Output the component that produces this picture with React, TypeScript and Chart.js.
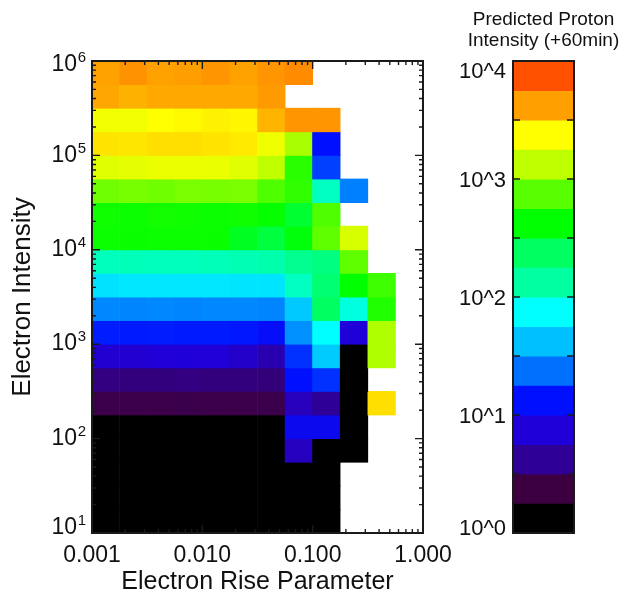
import React, { useEffect, useRef } from 'react';
import { Chart, registerables } from 'chart.js';

Chart.register(...registerables);

const FONT = "'Liberation Sans', Arial, Helvetica, sans-serif";

// Electron Rise Parameter: centres of quarter-decade bins (0.001 .. 1.000)
const riseParameterBins = [0.00133, 0.00237, 0.00422, 0.0075, 0.0133, 0.0237, 0.0422, 0.075, 0.133, 0.237, 0.422, 0.75];
// Electron Intensity bin edges (quarter decades, 10^1 .. 10^6)
const electronIntensityEdges = [10, 17.8, 31.6, 56.2, 100, 178, 316, 562, 1000, 1780, 3160, 5620, 10000, 17800, 31600, 56200, 100000, 178000, 316000, 562000, 1000000];

const _ = null;
// log10 of predicted proton intensity (+60 min); one array per electron-intensity bin, bottom to top
const eBin01 = [0, 0, 0, 0, 0, 0, 0, 0, 0, _, _, _];
const eBin02 = [0, 0, 0, 0, 0, 0, 0, 0, 0, _, _, _];
const eBin03 = [0, 0, 0, 0, 0, 0, 0, 0, 0, _, _, _];
const eBin04 = [0, 0, 0, 0, 0, 0, 0, 0.78, 0, 0, _, _];
const eBin05 = [0, 0, 0, 0, 0, 0, 0, 1.02, 1.02, 0, _, _];
const eBin06 = [0.4, 0.4, 0.4, 0.41, 0.4, 0.4, 0.41, 0.76, 0.63, 0, 3.46, _];
const eBin07 = [0.56, 0.55, 0.55, 0.56, 0.55, 0.55, 0.54, 1.125, 1.21, 0, _, _];
const eBin08 = [0.85, 0.85, 0.87, 0.88, 0.87, 0.82, 0.72, 1.21, 1.67, 0, 3.085, _];
const eBin09 = [1.16, 1.15, 1.16, 1.15, 1.15, 1.14, 1.08, 1.475, 1.875, 0.875, 3.085, _];
const eBin10 = [1.45, 1.44, 1.45, 1.44, 1.45, 1.45, 1.44, 1.66, 2.375, 1.96, 2.715, _];
const eBin11 = [1.76, 1.78, 1.78, 1.78, 1.78, 1.77, 1.77, 2.04, 2.31, 2.625, 2.8, _];
const eBin12 = [2.05, 2.06, 2.05, 2.05, 2.06, 2.07, 2.09, 2.19, 2.25, 2.895, _, _];
const eBin13 = [2.66, 2.65, 2.66, 2.66, 2.65, 2.54, 2.46, 2.6, 2.895, 3.22, _, _];
const eBin14 = [2.67, 2.66, 2.68, 2.67, 2.66, 2.67, 2.64, 2.5, 2.85, _, _, _];
const eBin15 = [2.93, 2.95, 2.93, 2.955, 2.95, 2.955, 2.85, 2.76, 2.04, 1.425, _, _];
const eBin16 = [3.25, 3.27, 3.3, 3.3, 3.29, 3.25, 3.125, 2.745, 1.25, _, _, _];
const eBin17 = [3.445, 3.44, 3.46, 3.46, 3.445, 3.43, 3.315, 3.07, 1.125, _, _, _];
const eBin18 = [3.32, 3.32, 3.375, 3.39, 3.41, 3.4, 3.57, 3.66, 3.66, _, _, _];
const eBin19 = [3.61, 3.58, 3.6, 3.6, 3.6, 3.6, 3.64, _, _, _, _, _];
const eBin20 = [3.62, 3.67, 3.62, 3.63, 3.66, 3.62, 3.66, 3.69, _, _, _, _];
const protonLogRows = [eBin01, eBin02, eBin03, eBin04, eBin05, eBin06, eBin07, eBin08, eBin09, eBin10,
  eBin11, eBin12, eBin13, eBin14, eBin15, eBin16, eBin17, eBin18, eBin19, eBin20];

// Axis ticks
const xMajorTicks = [0.001, 0.01, 0.1, 1];
const xTickLabels = ['0.001', '0.010', '0.100', '1.000'];
const yMajorTicks = [10, 100, 1000, 10000, 100000, 1000000];
const yTickExponents = ['1', '2', '3', '4', '5', '6'];

// Colour bar: 16 quarter-decade levels 10^0 .. 10^4
const levelEdges = [1, 1.78, 3.16, 5.62, 10, 17.8, 31.6, 56.2, 100, 178, 316, 562, 1000, 1780, 3160, 5620, 10000];
const levelColors = ['#000000', '#3c0040', '#2e0096', '#2000d8', '#0010ff', '#0070ff', '#00c0ff', '#00ffff',
  '#00ffa0', '#00ff60', '#00ff00', '#58ff00', '#c0ff00', '#ffff00', '#ffa000', '#ff5000'];
const cbMajorTicks = [1, 10, 100, 1000, 10000];
const cbTickLabels = ['10^0', '10^1', '10^2', '10^3', '10^4'];
const cbMinorTicks = [3.16, 31.6, 316, 3160];

function hexToRgb(h: string) {
  return [parseInt(h.slice(1, 3), 16), parseInt(h.slice(3, 5), 16), parseInt(h.slice(5, 7), 16)];
}

function colorFor(logV: number) {
  let pos = logV * 4 - 0.5;
  pos = Math.max(0, Math.min(levelColors.length - 1, pos));
  const i = Math.min(Math.floor(pos), levelColors.length - 2);
  const f = pos - i;
  const a = hexToRgb(levelColors[i]);
  const b = hexToRgb(levelColors[i + 1]);
  const c = a.map((v, k) => Math.round(v + (b[k] - v) * f));
  return `rgb(${c[0]},${c[1]},${c[2]})`;
}

const mainDecor = {
  id: 'mainDecor',
  afterDatasetsDraw(chart: any) {
    const { ctx, chartArea: a } = chart;
    const x = chart.scales.x;
    const y = chart.scales.y;
    ctx.save();
    ctx.strokeStyle = '#1a1a1a';
    ctx.lineWidth = 1.4;
    ctx.beginPath();
    for (const d of xMajorTicks) {
      for (let m = 1; m <= 9; m++) {
        const v = d * m;
        if (v > x.max * 1.0001) break;
        const px = x.getPixelForValue(v);
        const len = m === 1 ? 8 : 4;
        ctx.moveTo(px, a.bottom);
        ctx.lineTo(px, a.bottom - len);
        ctx.moveTo(px, a.top);
        ctx.lineTo(px, a.top + len);
      }
    }
    for (const d of yMajorTicks) {
      for (let m = 1; m <= 9; m++) {
        const v = d * m;
        if (v > y.max * 1.0001) break;
        const py = y.getPixelForValue(v);
        const len = m === 1 ? 8 : 4;
        ctx.moveTo(a.left, py);
        ctx.lineTo(a.left + len, py);
        ctx.moveTo(a.right, py);
        ctx.lineTo(a.right - len, py);
      }
    }
    ctx.stroke();
    ctx.lineWidth = 2;
    ctx.strokeRect(a.left, a.top, a.right - a.left, a.bottom - a.top);

    // y tick labels 10^n with superscript exponent
    ctx.fillStyle = '#111';
    ctx.textAlign = 'right';
    ctx.textBaseline = 'alphabetic';
    const base = 23;
    const sup = 15;
    yMajorTicks.forEach((v, i) => {
      const t = y.getPixelForValue(v);
      const center = Math.min(Math.max(t - 2, a.top + 2), a.bottom - 7);
      const bl = center + (0.716 * base) / 2;
      const right = a.left - 6;
      ctx.font = `${sup}px ${FONT}`;
      const ex = yTickExponents[i];
      ctx.fillText(ex, right, bl - 9);
      const w = ctx.measureText(ex).width;
      ctx.font = `${base}px ${FONT}`;
      ctx.fillText('10', right - w - 0.5, bl);
    });
    ctx.restore();
  },
};

const cbDecor = {
  id: 'cbDecor',
  afterDatasetsDraw(chart: any) {
    const { ctx, chartArea: a } = chart;
    const y = chart.scales.y;
    ctx.save();
    ctx.strokeStyle = '#1a1a1a';
    ctx.lineWidth = 1.6;
    ctx.beginPath();
    [...cbMajorTicks, ...cbMinorTicks].forEach((v) => {
      const p = y.getPixelForValue(v);
      ctx.moveTo(a.left, p);
      ctx.lineTo(a.left + 7, p);
      ctx.moveTo(a.right, p);
      ctx.lineTo(a.right - 7, p);
    });
    ctx.stroke();
    ctx.lineWidth = 2;
    ctx.strokeRect(a.left, a.top, a.right - a.left, a.bottom - a.top);

    ctx.fillStyle = '#111';
    ctx.textAlign = 'right';
    ctx.textBaseline = 'alphabetic';
    const fs = 22;
    ctx.font = `${fs}px ${FONT}`;
    cbMajorTicks.forEach((v, i) => {
      const t = y.getPixelForValue(v);
      const center = Math.min(Math.max(t, a.top + 9), a.bottom - 6);
      ctx.fillText(cbTickLabels[i], a.left - 7, center + (0.716 * fs) / 2);
    });

    ctx.textAlign = 'center';
    ctx.font = `19px ${FONT}`;
    const cx = (a.left + a.right) / 2;
    ctx.fillText('Predicted Proton', cx, a.top - 36);
    ctx.fillText('Intensity (+60min)', cx, a.top - 15);
    ctx.restore();
  },
};

export default function App() {
  const mainRef = useRef<HTMLCanvasElement | null>(null);
  const cbRef = useRef<HTMLCanvasElement | null>(null);

  useEffect(() => {
    document.body.style.margin = '0';
    Chart.defaults.font.family = FONT;
    Chart.defaults.color = '#111';

    const cells: any[] = [];
    const colors: string[] = [];
    protonLogRows.forEach((row, r) => {
      row.forEach((v, c) => {
        if (v === null || v === undefined) return;
        cells.push({ x: riseParameterBins[c], y: [electronIntensityEdges[r], electronIntensityEdges[r + 1]] });
        colors.push(colorFor(v));
      });
    });

    const main = new Chart(mainRef.current as HTMLCanvasElement, {
      type: 'bar',
      data: {
        datasets: [
          {
            data: cells,
            backgroundColor: colors,
            borderWidth: 0,
            categoryPercentage: 1,
            barPercentage: 1,
            inflateAmount: 0.4,
          } as any,
        ],
      },
      options: {
        responsive: false,
        animation: false,
        events: [],
        layout: { padding: { top: 61, right: 203, left: 0, bottom: 0 } },
        plugins: { legend: { display: false }, tooltip: { enabled: false }, title: { display: false } },
        scales: {
          x: {
            type: 'logarithmic',
            min: 0.001,
            max: 1,
            offset: false,
            grid: { display: false, offset: false },
            border: { display: false },
            afterBuildTicks: (s: any) => {
              s.ticks = xMajorTicks.map((v) => ({ value: v }));
            },
            afterFit: (s: any) => {
              s.height = 63;
            },
            ticks: {
              autoSkip: false,
              maxRotation: 0,
              padding: 1,
              color: '#111',
              font: { family: FONT, size: 23 },
              callback: (v: any) => {
                const i = xMajorTicks.findIndex((t) => Math.abs(t - v) / t < 1e-6);
                return i >= 0 ? xTickLabels[i] : '';
              },
            },
            title: {
              display: true,
              text: 'Electron Rise Parameter',
              color: '#111',
              font: { family: FONT, size: 25, lineHeight: 1 },
              padding: { top: 0, bottom: 1 },
            },
          } as any,
          y: {
            type: 'logarithmic',
            min: 10,
            max: 1000000,
            grid: { display: false },
            border: { display: false },
            ticks: { display: false },
            afterFit: (s: any) => {
              s.width = 92;
            },
            title: {
              display: true,
              text: 'Electron Intensity',
              color: '#111',
              font: { family: FONT, size: 26, lineHeight: 1 },
              padding: { top: 10, bottom: 0 },
            },
          } as any,
        },
      },
      plugins: [mainDecor],
    });

    const cb = new Chart(cbRef.current as HTMLCanvasElement, {
      type: 'bar',
      data: {
        labels: ['scale'],
        datasets: [
          {
            data: levelEdges.slice(0, -1).map((lo, i) => ({ x: 'scale', y: [lo, levelEdges[i + 1]] })),
            backgroundColor: levelColors,
            borderWidth: 0,
            categoryPercentage: 1,
            barPercentage: 1,
            inflateAmount: 0.4,
          } as any,
        ],
      },
      options: {
        responsive: false,
        animation: false,
        events: [],
        layout: { padding: { top: 61, bottom: 63, left: 0, right: 52 } },
        plugins: { legend: { display: false }, tooltip: { enabled: false }, title: { display: false } },
        scales: {
          x: { display: false },
          y: {
            type: 'logarithmic',
            min: 1,
            max: 10000,
            grid: { display: false },
            border: { display: false },
            ticks: { display: false },
            afterFit: (s: any) => {
              s.width = 73;
            },
          } as any,
        },
      },
      plugins: [cbDecor],
    });

    return () => {
      main.destroy();
      cb.destroy();
    };
  }, []);

  return (
    <div style={{ position: 'relative', width: 626, height: 596, overflow: 'hidden', background: '#fff' }}>
      <canvas ref={mainRef} width={626} height={596} style={{ position: 'absolute', left: 0, top: 0 }} />
      <canvas ref={cbRef} width={186} height={596} style={{ position: 'absolute', left: 440, top: 0 }} />
    </div>
  );
}
